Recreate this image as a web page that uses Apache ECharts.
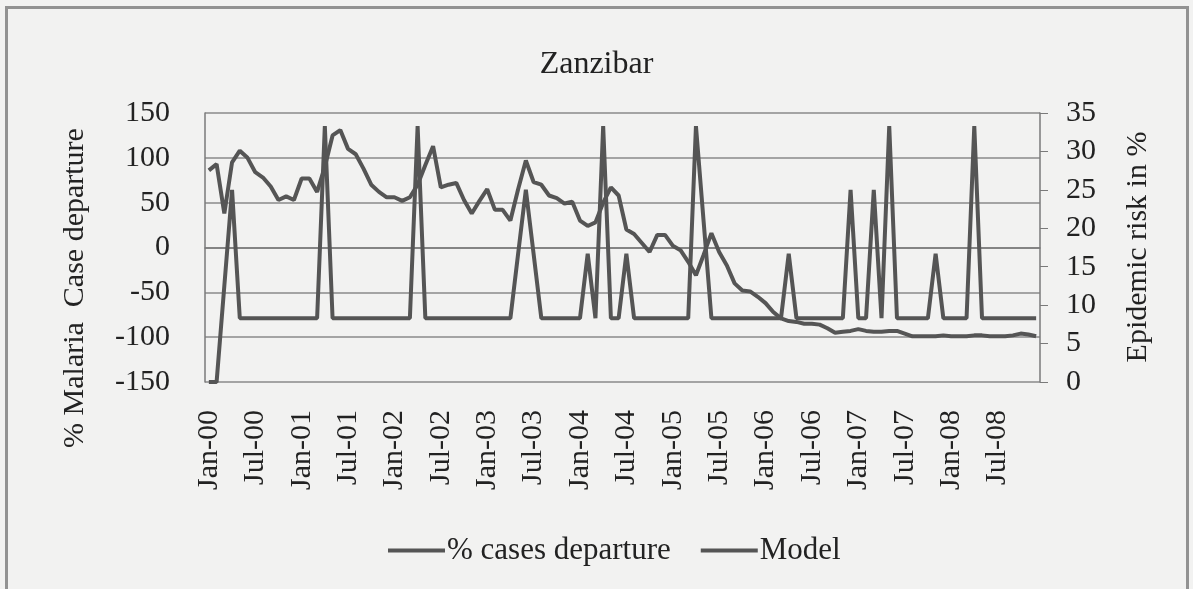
<!DOCTYPE html>
<html>
<head>
<meta charset="utf-8">
<title>Zanzibar</title>
<script src="https://cdn.jsdelivr.net/npm/echarts@6/dist/echarts.min.js"></script>
<style>
html, body {
  margin: 0;
  padding: 0;
  background: #f2f2f1;
}
#frame {
  position: absolute;
  left: 5px;
  top: 6px;
  width: 1178px;
  height: 600px;
  border: 3px solid #929292;
  border-bottom: none;
}
#main {
  position: absolute;
  left: 0;
  top: 0;
  width: 1193px;
  height: 589px;
}
</style>
</head>
<body>
<div id="frame"></div>
<div id="main"></div>
<script>
// months / years for the category axis
var monthNames = ['Jan', 'Feb', 'Mar', 'Apr', 'May', 'Jun', 'Jul', 'Aug', 'Sep', 'Oct', 'Nov', 'Dec']
var years = ['00', '01', '02', '03', '04', '05', '06', '07', '08']

// % malaria case departure (left axis), one row per year
var casesDeparture = [
  86, 93, 38, 95, 108, 100, 84, 78, 68, 53, 57, 53,
  77, 77, 62, 90, 125, 131, 110, 104, 88, 70, 62, 56,
  56, 52, 56, 70, 92, 113, 67, 70, 72, 53, 38, 52,
  65, 42, 42, 30, 65, 97, 73, 70, 58, 55, 49, 51,
  30, 24, 28, 50, 67, 58, 20, 15, 5, -5, 14, 14,
  2, -3, -16, -31, -8, 16, -5, -20, -40, -48, -49, -55,
  -62, -72, -79, -82, -83, -85, -85, -86, -90, -95, -94, -93,
  -91, -93, -94, -94, -93, -93, -96, -99, -99, -99, -99, -98,
  -99, -99, -99, -98, -98, -99, -99, -99, -98, -96, -97, -99
]

// model epidemic risk in % (right axis)
var modelRisk = [
  0, 0, 12.5, 25, 8.3, 8.3, 8.3, 8.3, 8.3, 8.3, 8.3, 8.3,
  8.3, 8.3, 8.3, 33.3, 8.3, 8.3, 8.3, 8.3, 8.3, 8.3, 8.3, 8.3,
  8.3, 8.3, 8.3, 33.3, 8.3, 8.3, 8.3, 8.3, 8.3, 8.3, 8.3, 8.3,
  8.3, 8.3, 8.3, 8.3, 16.7, 25, 16.7, 8.3, 8.3, 8.3, 8.3, 8.3,
  8.3, 16.7, 8.3, 33.3, 8.3, 8.3, 16.7, 8.3, 8.3, 8.3, 8.3, 8.3,
  8.3, 8.3, 8.3, 33.3, 20.8, 8.3, 8.3, 8.3, 8.3, 8.3, 8.3, 8.3,
  8.3, 8.3, 8.3, 16.7, 8.3, 8.3, 8.3, 8.3, 8.3, 8.3, 8.3, 25,
  8.3, 8.3, 25, 8.3, 33.3, 8.3, 8.3, 8.3, 8.3, 8.3, 16.7, 8.3,
  8.3, 8.3, 8.3, 33.3, 8.3, 8.3, 8.3, 8.3, 8.3, 8.3, 8.3, 8.3
]

var categories = []
for (var y = 0; y < years.length; y++) {
  for (var m = 0; m < monthNames.length; m++) {
    categories.push(monthNames[m] + '-' + years[y])
  }
}

var serif = '"Liberation Serif", "Times New Roman", serif'
var textColor = '#222'
var axisColor = '#7a7a7a'
var lineColor = '#555'

var chart = echarts.init(document.getElementById('main'))
chart.setOption({
  animation: false,
  title: {
    text: 'Zanzibar',
    left: 'center',
    top: 44,
    textStyle: { fontFamily: serif, fontSize: 32, fontWeight: 'normal', color: textColor }
  },
  legend: {
    left: 383,
    top: 530,
    icon: 'rect',
    itemWidth: 57,
    itemHeight: 4,
    itemGap: 30,
    textStyle: { fontFamily: serif, fontSize: 31, color: textColor, padding: [0, 0, 0, -3] },
    data: ['% cases departure', 'Model']
  },
  grid: {
    left: 205,
    right: 153,
    top: 113,
    bottom: 207
  },
  xAxis: {
    type: 'category',
    boundaryGap: true,
    data: categories,
    axisLine: { lineStyle: { color: axisColor, width: 1.5 } },
    axisTick: { show: false },
    axisLabel: {
      interval: 5,
      rotate: 90,
      margin: 28,
      fontFamily: serif,
      fontSize: 30,
      color: textColor
    }
  },
  yAxis: [
    {
      type: 'value',
      min: -150,
      max: 150,
      interval: 50,
      axisLine: { show: true, lineStyle: { color: axisColor, width: 1.5 } },
      axisTick: { show: false },
      splitLine: { lineStyle: { color: '#8a8a8a', width: 1.5 } },
      axisLabel: { margin: 35, fontFamily: serif, fontSize: 30, color: textColor }
    },
    {
      type: 'value',
      position: 'right',
      min: 0,
      max: 35,
      interval: 5,
      axisLine: { show: true, lineStyle: { color: axisColor, width: 1.5 } },
      axisTick: { show: true, length: 8, lineStyle: { color: axisColor } },
      splitLine: { show: false },
      axisLabel: { margin: 26, fontFamily: serif, fontSize: 30, color: textColor }
    }
  ],
  graphic: [
    {
      type: 'text',
      x: 75,
      y: 288,
      rotation: Math.PI / 2,
      style: {
        text: '% Malaria  Case departure',
        font: '30px ' + serif,
        fill: textColor,
        align: 'center',
        verticalAlign: 'middle'
      }
    },
    {
      type: 'text',
      x: 1138,
      y: 247,
      rotation: Math.PI / 2,
      style: {
        text: 'Epidemic risk in %',
        font: '30px ' + serif,
        fill: textColor,
        align: 'center',
        verticalAlign: 'middle'
      }
    }
  ],
  series: [
    {
      name: '% cases departure',
      type: 'line',
      yAxisIndex: 0,
      symbol: 'none',
      data: casesDeparture,
      itemStyle: { color: lineColor },
      lineStyle: { color: lineColor, width: 4 }
    },
    {
      name: 'Model',
      type: 'line',
      yAxisIndex: 1,
      symbol: 'none',
      data: modelRisk,
      itemStyle: { color: lineColor },
      lineStyle: { color: lineColor, width: 4 }
    }
  ]
})
</script>
</body>
</html>
